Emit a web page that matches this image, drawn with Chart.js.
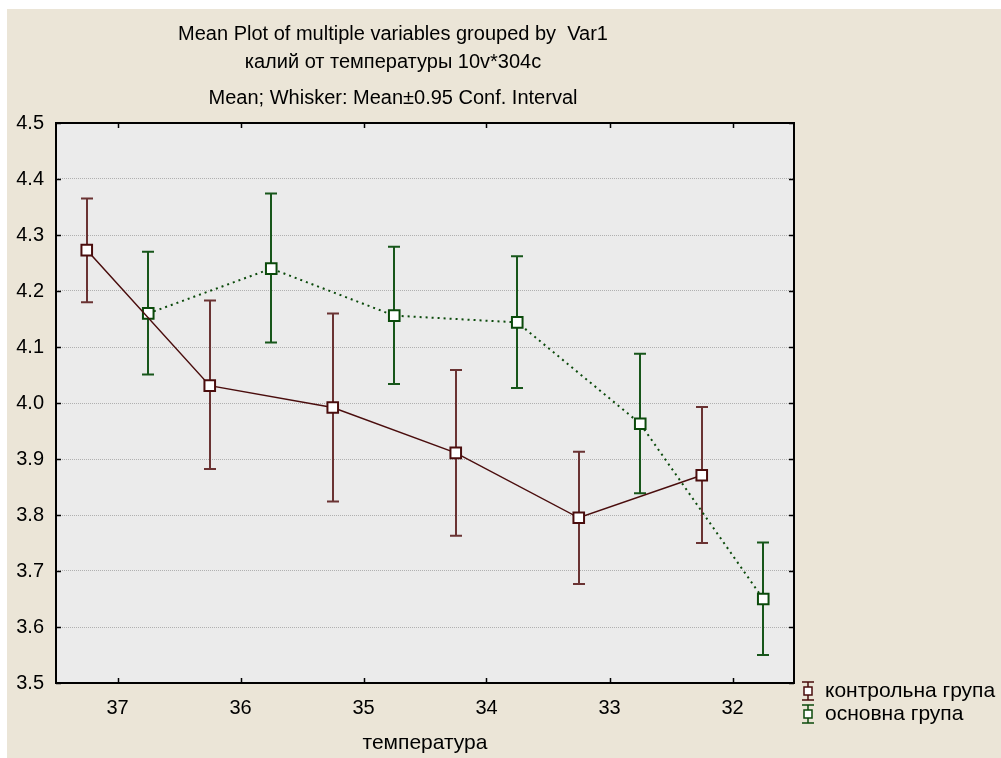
<!DOCTYPE html>
<html>
<head>
<meta charset="utf-8">
<script src="https://cdn.jsdelivr.net/npm/chart.js@4"></script>
<style>
  body { margin: 0; background: #ffffff; }
  #wrap { position: absolute; left: 7px; top: 9px; width: 994px; height: 749px; background: #ebe5d7; }
</style>
</head>
<body>
<div id="wrap"><canvas id="meanChart" width="994" height="749"></canvas></div>
<script>
// temperature groups (x axis, shown reversed)
const temps = [37, 36, 35, 34, 33, 32];
const yTicks = [3.5, 3.6, 3.7, 3.8, 3.9, 4.0, 4.1, 4.2, 4.3, 4.4, 4.5];

// контрольна група: mean and 0.95 conf. interval
const controlMean = [4.273, 4.031, 3.992, 3.911, 3.795, 3.871];
const controlLow  = [4.180, 3.882, 3.824, 3.763, 3.677, 3.750];
const controlHigh = [4.365, 4.183, 4.160, 4.059, 3.913, 3.993];

// основна група
const mainMean = [4.160, 4.240, 4.156, 4.144, 3.963, 3.650];
const mainLow  = [4.051, 4.108, 4.034, 4.027, 3.839, 3.550];
const mainHigh = [4.270, 4.374, 4.279, 4.262, 4.088, 3.751];

const titleLines = [
    'Mean Plot of multiple variables grouped by  Var1',
    'калий от температуры 10v*304c',
    'Mean; Whisker: Mean\u00b10.95 Conf. Interval'
];

const FONT = '"Liberation Sans", Arial, sans-serif';
const RED = '#4a0d0d', RED_BAR = '#6a3333';
const GREEN = '#0b4a0b', GREEN_BAR = '#17561a';

// the two groups sit a quarter step either side of each temperature
const shift = 0.25;
const controlPts = temps.map((t, i) => ({ x: t + shift, y: controlMean[i], lo: controlLow[i], hi: controlHigh[i] }));
const mainPts = temps.map((t, i) => ({ x: t - shift, y: mainMean[i], lo: mainLow[i], hi: mainHigh[i] }));

// plot background, whiskers, frame, inside ticks, titles and legend
const statPlugin = {
    id: 'statPlugin',
    beforeDraw(chart) {
        const ctx = chart.ctx, a = chart.chartArea;
        ctx.save();
        ctx.fillStyle = '#ebebeb';
        ctx.fillRect(a.left, a.top, a.right - a.left, a.bottom - a.top);
        ctx.restore();
    },
    beforeDatasetsDraw(chart) {
        const ctx = chart.ctx, xs = chart.scales.x, ys = chart.scales.y;
        ctx.save();
        chart.data.datasets.forEach(ds => {
            ctx.strokeStyle = ds.barColor;
            ctx.lineWidth = 2;
            ds.data.forEach(p => {
                const x = Math.round(xs.getPixelForValue(p.x));
                const yt = ys.getPixelForValue(p.hi), yb = ys.getPixelForValue(p.lo);
                ctx.beginPath();
                ctx.moveTo(x, yt); ctx.lineTo(x, yb);
                ctx.moveTo(x - 6, yt); ctx.lineTo(x + 6, yt);
                ctx.moveTo(x - 6, yb); ctx.lineTo(x + 6, yb);
                ctx.stroke();
            });
        });
        ctx.restore();
    },
    afterDraw(chart) {
        const ctx = chart.ctx, a = chart.chartArea, xs = chart.scales.x, ys = chart.scales.y;
        ctx.save();
        // frame
        ctx.strokeStyle = '#000';
        ctx.lineWidth = 2;
        ctx.strokeRect(a.left, a.top, a.right - a.left, a.bottom - a.top);
        // inward ticks on all four sides
        ctx.lineWidth = 1.5;
        ctx.beginPath();
        temps.forEach(t => {
            const x = Math.round(xs.getPixelForValue(t)) + 0.5;
            ctx.moveTo(x, a.bottom); ctx.lineTo(x, a.bottom - 5);
            ctx.moveTo(x, a.top); ctx.lineTo(x, a.top + 5);
        });
        yTicks.forEach(v => {
            const y = Math.round(ys.getPixelForValue(v)) + 0.5;
            ctx.moveTo(a.left, y); ctx.lineTo(a.left + 5, y);
            ctx.moveTo(a.right, y); ctx.lineTo(a.right - 5, y);
        });
        ctx.stroke();

        // titles
        ctx.fillStyle = '#000';
        ctx.font = '20px ' + FONT;
        ctx.textAlign = 'center';
        ctx.textBaseline = 'middle';
        const cx = a.left + 337;
        const ty = [a.top - 89, a.top - 61, a.top - 25];
        titleLines.forEach((s, i) => ctx.fillText(s, cx, ty[i]));

        // legend
        ctx.textAlign = 'left';
        ctx.font = '21px ' + FONT;
        chart.data.datasets.forEach((ds, i) => {
            const y = a.bottom + 8 + i * 23;
            const x = a.right + 14;
            ctx.strokeStyle = ds.borderColor;
            ctx.lineWidth = 1.5;
            ctx.beginPath();
            ctx.moveTo(x - 6, y - 9); ctx.lineTo(x + 6, y - 9);
            ctx.moveTo(x - 6, y + 9); ctx.lineTo(x + 6, y + 9);
            ctx.moveTo(x, y - 9); ctx.lineTo(x, y + 9);
            ctx.stroke();
            ctx.fillStyle = '#fff';
            ctx.fillRect(x - 4, y - 4, 8, 8);
            ctx.strokeRect(x - 4, y - 4, 8, 8);
            ctx.fillStyle = '#000';
            ctx.fillText(ds.label, x + 17, y);
        });
        ctx.restore();
    }
};

new Chart(document.getElementById('meanChart'), {
    type: 'line',
    data: {
        datasets: [{
            label: 'контрольна група',
            data: controlPts,
            borderColor: RED,
            barColor: RED_BAR,
            borderWidth: 1.5,
            pointStyle: 'rect',
            pointRadius: 7.5,
            pointBorderWidth: 2,
            pointBackgroundColor: '#ffffff',
            pointBorderColor: RED
        }, {
            label: 'основна група',
            data: mainPts,
            borderColor: GREEN,
            barColor: GREEN_BAR,
            borderWidth: 2,
            borderDash: [2, 4],
            pointStyle: 'rect',
            pointRadius: 7.5,
            pointBorderWidth: 2,
            pointBackgroundColor: '#ffffff',
            pointBorderColor: GREEN
        }]
    },
    options: {
        responsive: false,
        animation: false,
        devicePixelRatio: 1,
        layout: { padding: { top: 114, right: 207, left: 0, bottom: 0 } },
        plugins: { legend: { display: false }, title: { display: false }, tooltip: { enabled: false } },
        scales: {
            x: {
                type: 'linear',
                reverse: true,
                min: 31.5,
                max: 37.5,
                afterBuildTicks(scale) { scale.ticks = temps.map(v => ({ value: v })); },
                afterFit(scale) { scale.height = 75; },
                grid: { display: false, drawTicks: false },
                border: { display: false },
                ticks: { color: '#000', padding: 13, font: { family: FONT, size: 20 }, callback: v => String(v) },
                title: { display: true, text: 'температура', color: '#000', padding: { top: 0, bottom: 2 }, font: { family: FONT, size: 21 } }
            },
            y: {
                min: 3.5,
                max: 4.5,
                afterBuildTicks(scale) { scale.ticks = yTicks.map(v => ({ value: v })); },
                afterFit(scale) { scale.width = 49; },
                grid: { color: '#b0b0b0', lineWidth: 1, drawTicks: false },
                border: { display: false, dash: [1, 1] },
                ticks: { color: '#000', padding: 12, font: { family: FONT, size: 20 }, callback: v => v.toFixed(1) }
            }
        }
    },
    plugins: [statPlugin]
});
</script>
</body>
</html>
